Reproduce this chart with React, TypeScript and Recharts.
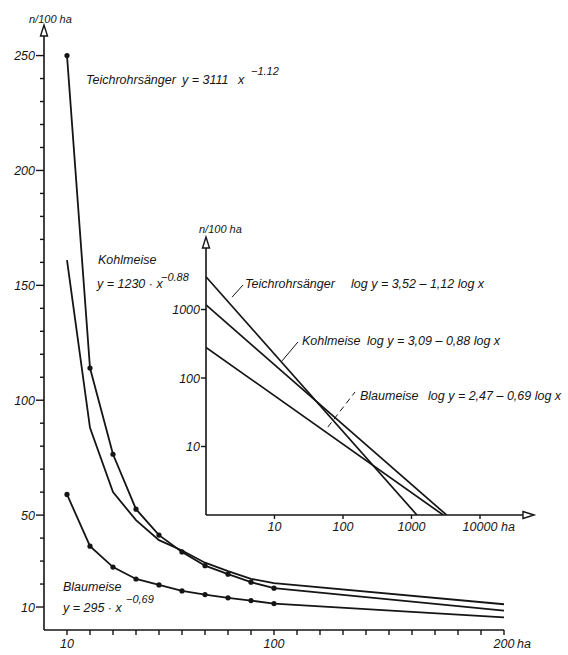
import React from 'react';
import { Line, LineChart, ReferenceDot, ReferenceLine, XAxis, YAxis } from 'recharts';

const INK = '#151515';
const FONT = '"Liberation Sans", Arial, sans-serif';

// main chart: density n/100 ha against area (ha)
const areaHa = [10, 20, 30, 40, 50, 60, 70, 80, 90, 100, 200];
const teichrohrsaenger = [250, 114, 76.5, 52.6, 41.3, 34, 28, 24.3, 20.8, 18.2, 8.4];
const kohlmeise = [161, 88, 60, 47.8, 39.1, 34.6, 29.3, 25.6, 22.3, 20.4, 11.2];
const blaumeise = [59, 36.5, 27.4, 22.2, 19.6, 17, 15.4, 14, 12.8, 11.5, 5.5];

const xTicks = [10, 20, 30, 40, 50, 60, 70, 80, 90, 100, 110, 120, 130, 140, 150, 160, 170, 180, 190, 200];
const xTickLabels = [10, 100, 200];
const yTicks = [10, 20, 30, 40, 50, 60, 70, 80, 90, 100, 110, 120, 130, 140, 150, 160, 170, 180, 190, 200, 210, 220, 230, 240, 250];
const yTickLabels = [10, 50, 100, 150, 200, 250];

// inset: log-log straight lines (end points)
const logAreaTeich = [1, 1200];
const logTeich = [3000, 1];
const logAreaKohl = [1, 3250];
const logKohl = [1170, 1];
const logAreaBlau = [1, 2900];
const logBlau = [280, 1];
const logXTicks = [10, 100, 1000, 10000];
const logYTicks = [10, 100, 1000];

const mainData = areaHa.map((x, i) => ({
    x,
    teich: teichrohrsaenger[i],
    kohl: kohlmeise[i],
    blau: blaumeise[i],
}));

const toPoints = (xs: number[], ys: number[]) => xs.map((x, i) => ({ x, y: ys[i] }));

const textStyle = { fontFamily: FONT, fontStyle: 'italic' as const, fontSize: 12.5, fill: INK };

const pointDot = (props: any) => {
    const { cx, cy, payload, index } = props;
    if (payload.x > 100) return <g key={index} />;
    return <circle key={index} cx={cx} cy={cy} r={2.6} fill={INK} />;
};

const MainYTick = ({ x, y, payload }: any) => {
    const major = yTickLabels.includes(payload.value);
    const len = major ? 8 : 4;
    return (
        <g>
            <line x1={x} x2={x - len} y1={y} y2={y} stroke={INK} strokeWidth={1.4} />
            {major && (
                <text x={x - len - 1} y={y} dy="0.36em" textAnchor="end" {...textStyle}>
                    {payload.value}
                </text>
            )}
        </g>
    );
};

const MainXTick = ({ x, y, payload }: any) => {
    const major = xTickLabels.includes(payload.value);
    return (
        <g>
            <line x1={x} x2={x} y1={y} y2={y + 5} stroke={INK} strokeWidth={1.4} />
            {major && (
                <text x={x} y={y + 18} textAnchor="middle" {...textStyle}>
                    {payload.value}
                </text>
            )}
            {payload.value === 200 && (
                <text x={x + 13} y={y + 18} {...textStyle}>
                    ha
                </text>
            )}
        </g>
    );
};

const InsetYTick = ({ x, y, payload }: any) => (
    <g>
        <line x1={x} x2={x - 5} y1={y} y2={y} stroke={INK} strokeWidth={1.4} />
        <text x={x - 6} y={y} dy="0.36em" textAnchor="end" {...textStyle}>
            {payload.value}
        </text>
    </g>
);

const InsetXTick = ({ x, y, payload }: any) => (
    <g>
        <line x1={x} x2={x} y1={y} y2={y + 4} stroke={INK} strokeWidth={1.4} />
        <text x={x} y={y + 16} textAnchor="middle" {...textStyle}>
            {payload.value === 10000 ? '10000' : payload.value}
        </text>
        {payload.value === 10000 && (
            <text x={x + 21} y={y + 16} {...textStyle}>
                ha
            </text>
        )}
    </g>
);

const ArrowUp = ({ cx, cy }: any) => (
    <polygon
        points={`${cx},${cy - 3} ${cx - 3.5},${cy + 8} ${cx + 3.5},${cy + 8}`}
        fill="#fff"
        stroke={INK}
        strokeWidth={1.4}
    />
);

const ArrowRight = ({ cx, cy }: any) => (
    <polygon
        points={`${cx + 4},${cy} ${cx - 7},${cy - 3.5} ${cx - 7},${cy + 3.5}`}
        fill="#fff"
        stroke={INK}
        strokeWidth={1.4}
    />
);

const Sup = ({ x, y, children }: any) => (
    <text x={x} y={y} {...textStyle} fontSize={11}>
        {children}
    </text>
);

const T = ({ x, y, children }: any) => (
    <text x={x} y={y} {...textStyle}>
        {children}
    </text>
);

export default function App() {
    return (
        <div style={{ position: 'absolute', left: 0, top: 0, width: 568, height: 655, background: '#fff' }}>
            {/* main chart */}
            <div style={{ position: 'absolute', left: 0, top: 0 }}>
                <LineChart width={568} height={655} data={mainData} margin={{ top: 28, right: 64, left: 4, bottom: 0 }}>
                    <XAxis
                        dataKey="x"
                        type="number"
                        domain={[0, 200]}
                        allowDataOverflow
                        ticks={xTicks}
                        interval={0}
                        tickSize={0}
                        tickMargin={0}
                        height={25}
                        tick={<MainXTick />}
                        axisLine={{ stroke: INK, strokeWidth: 1.6 }}
                    />
                    <YAxis
                        type="number"
                        domain={[0, 262]}
                        allowDataOverflow
                        ticks={yTicks}
                        interval={0}
                        tickSize={0}
                        tickMargin={0}
                        width={40}
                        tick={<MainYTick />}
                        axisLine={{ stroke: INK, strokeWidth: 1.6 }}
                    />
                    <ReferenceDot x={0} y={262} r={0} shape={<ArrowUp />} />
                    <Line type="linear" dataKey="kohl" stroke={INK} strokeWidth={1.8} dot={false} activeDot={false} isAnimationActive={false} />
                    <Line type="linear" dataKey="teich" stroke={INK} strokeWidth={1.8} dot={pointDot} activeDot={false} isAnimationActive={false} />
                    <Line type="linear" dataKey="blau" stroke={INK} strokeWidth={1.8} dot={pointDot} activeDot={false} isAnimationActive={false} />
                </LineChart>
            </div>

            {/* inset log-log chart */}
            <div style={{ position: 'absolute', left: 0, top: 0 }}>
                <LineChart width={568} height={655} margin={{ top: 240, right: 38, left: 146, bottom: 110 }}>
                    <XAxis
                        dataKey="x"
                        type="number"
                        scale="log"
                        domain={[1, 53700]}
                        allowDataOverflow
                        ticks={logXTicks}
                        interval={0}
                        tickSize={0}
                        tickMargin={0}
                        height={30}
                        tick={<InsetXTick />}
                        axisLine={{ stroke: INK, strokeWidth: 1.6 }}
                    />
                    <YAxis
                        type="number"
                        scale="log"
                        domain={[1, 10350]}
                        allowDataOverflow
                        ticks={logYTicks}
                        interval={0}
                        tickSize={0}
                        tickMargin={0}
                        width={60}
                        tick={<InsetYTick />}
                        axisLine={{ stroke: INK, strokeWidth: 1.6 }}
                    />
                    <ReferenceDot x={1} y={10350} r={0} shape={<ArrowUp />} />
                    <ReferenceDot x={53700} y={1} r={0} shape={<ArrowRight />} />
                    <ReferenceLine segment={[{ x: 2.4, y: 1515 }, { x: 3.47, y: 2280 }]} stroke={INK} strokeWidth={1} />
                    <ReferenceLine segment={[{ x: 12.9, y: 178 }, { x: 22, y: 336 }]} stroke={INK} strokeWidth={1} />
                    <ReferenceLine segment={[{ x: 60, y: 19.2 }, { x: 150, y: 62.6 }]} stroke={INK} strokeWidth={1} strokeDasharray="6 4" />
                    <Line data={toPoints(logAreaTeich, logTeich)} type="linear" dataKey="y" stroke={INK} strokeWidth={1.7} dot={false} activeDot={false} isAnimationActive={false} />
                    <Line data={toPoints(logAreaKohl, logKohl)} type="linear" dataKey="y" stroke={INK} strokeWidth={1.7} dot={false} activeDot={false} isAnimationActive={false} />
                    <Line data={toPoints(logAreaBlau, logBlau)} type="linear" dataKey="y" stroke={INK} strokeWidth={1.7} dot={false} activeDot={false} isAnimationActive={false} />
                </LineChart>
            </div>

            {/* labels and formulas */}
            <svg width={568} height={655} style={{ position: 'absolute', left: 0, top: 0 }}>
                <text x={29} y={23} {...textStyle} fontSize={11}>n/100 ha</text>
                <text x={199} y={233} {...textStyle} fontSize={11}>n/100 ha</text>

                <T x={86} y={84}>Teichrohrsänger</T>
                <T x={182} y={84}>y = 3111</T>
                <T x={238} y={84}>x</T>
                <Sup x={251} y={75}>−1.12</Sup>

                <T x={98} y={264}>Kohlmeise</T>
                <T x={97} y={288}>y = 1230 · x</T>
                <Sup x={161} y={281}>−0.88</Sup>

                <T x={63} y={591}>Blaumeise</T>
                <T x={63} y={612}>y = 295 · x</T>
                <Sup x={126} y={603}>−0,69</Sup>

                <T x={245} y={288}>Teichrohrsänger</T>
                <T x={351} y={288}>log y = 3,52 – 1,12 log x</T>
                <T x={302} y={345}>Kohlmeise</T>
                <T x={367} y={345}>log y = 3,09 – 0,88 log x</T>
                <T x={360} y={400}>Blaumeise</T>
                <T x={428} y={400}>log y = 2,47 – 0,69 log x</T>
            </svg>
        </div>
    );
}
